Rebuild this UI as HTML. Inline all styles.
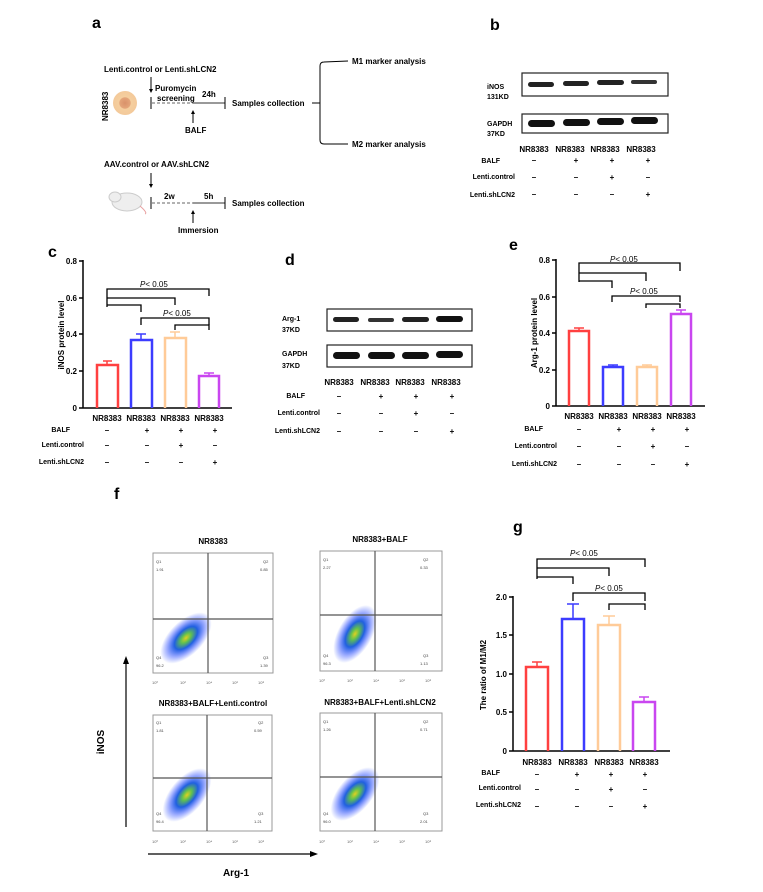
<!DOCTYPE html>
<html><head><meta charset="utf-8"><style>
html,body{margin:0;padding:0;background:#fff}
svg{display:block;font-family:"Liberation Sans",Arial,sans-serif}
.b{font-weight:bold}
</style></head><body>
<svg width="763" height="892" viewBox="0 0 763 892" xmlns="http://www.w3.org/2000/svg">
<defs>
<radialGradient id="cell"><stop offset="0" stop-color="#d9916a"/><stop offset="0.45" stop-color="#e4a57a"/><stop offset="0.5" stop-color="#f5cf9f"/><stop offset="1" stop-color="#f3c99a"/></radialGradient>
<radialGradient id="dots"><stop offset="0" stop-color="#e0d020"/><stop offset="0.2" stop-color="#60c050"/><stop offset="0.45" stop-color="#2060e0"/><stop offset="0.75" stop-color="#3050ff" stop-opacity="0.45"/><stop offset="1" stop-color="#3050ff" stop-opacity="0"/></radialGradient>
</defs>
<g fill="#000">
<!-- panel a -->
<text x="92" y="28" font-size="16" class="b">a</text>
<text x="104" y="72" font-size="8" class="b">Lenti.control or Lenti.shLCN2</text>
<line x1="151" y1="77" x2="151" y2="91" stroke="#000"/><path d="M149,89 L151,93 L153,89Z"/>
<text x="155" y="91" font-size="8" class="b">Puromycin</text>
<text x="157" y="101" font-size="8" class="b">screening</text>
<text x="202" y="97" font-size="8" class="b">24h</text>
<text x="232" y="106" font-size="8" class="b">Samples collection</text>
<line x1="151" y1="97" x2="151" y2="109" stroke="#000"/>
<line x1="152" y1="103" x2="193" y2="103" stroke="#666" stroke-dasharray="3,2"/>
<line x1="193" y1="103" x2="225" y2="103" stroke="#333"/>
<line x1="225" y1="97" x2="225" y2="109" stroke="#000"/>
<line x1="193" y1="112" x2="193" y2="123" stroke="#000"/><path d="M191,114 L193,110 L195,114Z"/>
<text x="185" y="133" font-size="8" class="b">BALF</text>
<circle cx="125" cy="103" r="12" fill="url(#cell)"/>
<text transform="translate(108,121) rotate(-90)" font-size="8" class="b">NR8383</text>
<line x1="312" y1="103" x2="320" y2="103" stroke="#000"/>
<path d="M348,61 L324,62 Q320,62 320,66 L320,140 Q320,144 324,144 L348,144" fill="none" stroke="#000"/>
<text x="352" y="64" font-size="8" class="b">M1 marker analysis</text>
<text x="352" y="147" font-size="8" class="b">M2 marker analysis</text>
<text x="104" y="167" font-size="8" class="b">AAV.control or AAV.shLCN2</text>
<line x1="151" y1="173" x2="151" y2="186" stroke="#000"/><path d="M149,184 L151,188 L153,184Z"/>
<line x1="151" y1="197" x2="151" y2="209" stroke="#000"/>
<line x1="152" y1="203" x2="193" y2="203" stroke="#666" stroke-dasharray="3,2"/>
<line x1="193" y1="203" x2="225" y2="203" stroke="#333"/>
<line x1="225" y1="197" x2="225" y2="209" stroke="#000"/>
<text x="164" y="199" font-size="8" class="b">2w</text>
<text x="204" y="199" font-size="8" class="b">5h</text>
<text x="232" y="206" font-size="8" class="b">Samples collection</text>
<line x1="193" y1="212" x2="193" y2="223" stroke="#000"/><path d="M191,214 L193,210 L195,214Z"/>
<text x="178" y="233" font-size="8" class="b">Immersion</text>
<ellipse cx="127" cy="202" rx="15" ry="9" fill="#eee" stroke="#ccc"/>
<ellipse cx="115" cy="197" rx="6" ry="5" fill="#eee" stroke="#ccc"/>
<path d="M140,206 Q148,213 145,214" fill="none" stroke="#e8a0a0"/>
<!-- panel b -->
<text x="490" y="30" font-size="16" class="b">b</text>
<rect x="522" y="73" width="146" height="23" fill="#fff" stroke="#222" stroke-width="1.2"/>
<rect x="528" y="82" width="26" height="5" rx="2.5" fill="#222"/><rect x="563" y="81" width="26" height="5" rx="2.5" fill="#222"/><rect x="597" y="80" width="27" height="5" rx="2.5" fill="#222"/><rect x="631" y="80" width="26" height="4" rx="2" fill="#333"/>
<rect x="522" y="114" width="146" height="19" fill="#fff" stroke="#222" stroke-width="1.2"/>
<rect x="528" y="120" width="27" height="7" rx="3.5" fill="#111"/><rect x="563" y="119" width="27" height="7" rx="3.5" fill="#111"/><rect x="597" y="118" width="27" height="7" rx="3.5" fill="#111"/><rect x="631" y="117" width="27" height="7" rx="3.5" fill="#111"/>
<text x="487" y="89" font-size="7" class="b">iNOS</text><text x="487" y="99" font-size="7" class="b">131KD</text>
<text x="487" y="126" font-size="7" class="b">GAPDH</text><text x="487" y="136" font-size="7" class="b">37KD</text>
<g font-size="8" class="b" text-anchor="middle">
<text x="534" y="152">NR8383</text><text x="570" y="152">NR8383</text><text x="605" y="152">NR8383</text><text x="641" y="152">NR8383</text>
<text x="534" y="163">–</text><text x="576" y="163">+</text><text x="612" y="163">+</text><text x="648" y="163">+</text>
<text x="534" y="180">–</text><text x="576" y="180">–</text><text x="612" y="180">+</text><text x="648" y="180">–</text>
<text x="534" y="197">–</text><text x="576" y="197">–</text><text x="612" y="197">–</text><text x="648" y="197">+</text>
</g>
<g font-size="7" class="b" text-anchor="end"><text x="500" y="163">BALF</text><text x="515" y="179">Lenti.control</text><text x="515" y="197">Lenti.shLCN2</text></g>
<!-- panel c -->
<text x="48" y="257" font-size="16" class="b">c</text>
<g stroke="#000" stroke-width="1.5" fill="none">
<line x1="83" y1="260" x2="83" y2="408"/><line x1="83" y1="408" x2="232" y2="408"/>
<line x1="79" y1="261" x2="83" y2="261"/><line x1="79" y1="298" x2="83" y2="298"/><line x1="79" y1="334" x2="83" y2="334"/><line x1="79" y1="371" x2="83" y2="371"/><line x1="79" y1="408" x2="83" y2="408"/>
</g>
<g font-size="8" class="b" text-anchor="end"><text x="77" y="264">0.8</text><text x="77" y="301">0.6</text><text x="77" y="337">0.4</text><text x="77" y="374">0.2</text><text x="77" y="411">0</text></g>
<text transform="translate(64,335) rotate(-90)" font-size="8" text-anchor="middle" class="b">iNOS protein level</text>
<g fill="none" stroke-width="2.5">
<path d="M97,408 V365 H118 V408" stroke="#ff4040"/><path d="M107,365 V361 M103,361 H112" stroke="#ff4040" stroke-width="1.5"/>
<path d="M131,408 V340 H152 V408" stroke="#3c3cff"/><path d="M141,340 V334 M136,334 H146" stroke="#3c3cff" stroke-width="1.5"/>
<path d="M165,408 V338 H186 V408" stroke="#ffcb98"/><path d="M175,338 V332 M170,332 H180" stroke="#ffcb98" stroke-width="1.5"/>
<path d="M199,408 V376 H219 V408" stroke="#c946f0"/><path d="M209,376 V373 M204,373 H214" stroke="#c946f0" stroke-width="1.5"/>
</g>
<g fill="none" stroke="#000" stroke-width="1.3">
<path d="M107,307 V289 H209 V296"/><path d="M107,298 H175 V305"/><path d="M107,305 H141 V312"/>
<path d="M141,325 V318 H209 V325"/><path d="M175,330 V325 H209 V330"/>
</g>
<text x="140" y="287" font-size="8"><tspan font-style="italic">P</tspan>&lt; 0.05</text>
<text x="163" y="316" font-size="8"><tspan font-style="italic">P</tspan>&lt; 0.05</text>
<g font-size="8" class="b" text-anchor="middle">
<text x="107" y="421">NR8383</text><text x="141" y="421">NR8383</text><text x="175" y="421">NR8383</text><text x="209" y="421">NR8383</text>
<text x="107" y="433">–</text><text x="147" y="433">+</text><text x="181" y="433">+</text><text x="215" y="433">+</text>
<text x="107" y="448">–</text><text x="147" y="448">–</text><text x="181" y="448">+</text><text x="215" y="448">–</text>
<text x="107" y="465">–</text><text x="147" y="465">–</text><text x="181" y="465">–</text><text x="215" y="465">+</text>
</g>
<g font-size="7" class="b" text-anchor="end"><text x="70" y="432">BALF</text><text x="84" y="447">Lenti.control</text><text x="84" y="464">Lenti.shLCN2</text></g>
<!-- panel d -->
<text x="285" y="265" font-size="16" class="b">d</text>
<rect x="327" y="309" width="145" height="22" fill="#fff" stroke="#222" stroke-width="1.2"/>
<rect x="333" y="317" width="26" height="5" rx="2.5" fill="#222"/><rect x="368" y="318" width="26" height="4" rx="2" fill="#333"/><rect x="402" y="317" width="27" height="5" rx="2.5" fill="#222"/><rect x="436" y="316" width="27" height="6" rx="3" fill="#111"/>
<rect x="327" y="345" width="145" height="22" fill="#fff" stroke="#222" stroke-width="1.2"/>
<rect x="333" y="352" width="27" height="7" rx="3.5" fill="#111"/><rect x="368" y="352" width="27" height="7" rx="3.5" fill="#111"/><rect x="402" y="352" width="27" height="7" rx="3.5" fill="#111"/><rect x="436" y="351" width="27" height="7" rx="3.5" fill="#111"/>
<text x="282" y="321" font-size="7" class="b">Arg-1</text><text x="282" y="332" font-size="7" class="b">37KD</text>
<text x="282" y="356" font-size="7" class="b">GAPDH</text><text x="282" y="368" font-size="7" class="b">37KD</text>
<g font-size="8" class="b" text-anchor="middle">
<text x="339" y="385">NR8383</text><text x="375" y="385">NR8383</text><text x="410" y="385">NR8383</text><text x="446" y="385">NR8383</text>
<text x="339" y="399">–</text><text x="381" y="399">+</text><text x="416" y="399">+</text><text x="452" y="399">+</text>
<text x="339" y="416">–</text><text x="381" y="416">–</text><text x="416" y="416">+</text><text x="452" y="416">–</text>
<text x="339" y="434">–</text><text x="381" y="434">–</text><text x="416" y="434">–</text><text x="452" y="434">+</text>
</g>
<g font-size="7" class="b" text-anchor="end"><text x="305" y="398">BALF</text><text x="320" y="415">Lenti.control</text><text x="320" y="433">Lenti.shLCN2</text></g>
<!-- panel e -->
<text x="509" y="250" font-size="16" class="b">e</text>
<g stroke="#000" stroke-width="1.5" fill="none">
<line x1="556" y1="259" x2="556" y2="406"/><line x1="556" y1="406" x2="705" y2="406"/>
<line x1="552" y1="260" x2="556" y2="260"/><line x1="552" y1="297" x2="556" y2="297"/><line x1="552" y1="333" x2="556" y2="333"/><line x1="552" y1="370" x2="556" y2="370"/><line x1="552" y1="406" x2="556" y2="406"/>
</g>
<g font-size="8" class="b" text-anchor="end"><text x="550" y="263">0.8</text><text x="550" y="300">0.6</text><text x="550" y="336">0.4</text><text x="550" y="373">0.2</text><text x="550" y="409">0</text></g>
<text transform="translate(537,333) rotate(-90)" font-size="8" text-anchor="middle" class="b">Arg-1 protein level</text>
<g fill="none" stroke-width="2.5">
<path d="M569,406 V331 H589 V406" stroke="#ff4040"/><path d="M579,331 V328 M574,328 H584" stroke="#ff4040" stroke-width="1.5"/>
<path d="M603,406 V367 H623 V406" stroke="#3c3cff"/><path d="M613,367 V365 M608,365 H618" stroke="#3c3cff" stroke-width="1.5"/>
<path d="M637,406 V367 H657 V406" stroke="#ffcb98"/><path d="M647,367 V365 M642,365 H652" stroke="#ffcb98" stroke-width="1.5"/>
<path d="M671,406 V314 H691 V406" stroke="#c946f0"/><path d="M681,314 V310 M676,310 H686" stroke="#c946f0" stroke-width="1.5"/>
</g>
<g fill="none" stroke="#000" stroke-width="1.3">
<path d="M579,282 V263 H680 V271"/><path d="M579,273 H646 V281"/><path d="M579,281 H612 V288"/>
<path d="M612,302 V296 H680 V302"/><path d="M646,308 V304 H680 V308"/>
</g>
<text x="610" y="262" font-size="8"><tspan font-style="italic">P</tspan>&lt; 0.05</text>
<text x="630" y="294" font-size="8"><tspan font-style="italic">P</tspan>&lt; 0.05</text>
<g font-size="8" class="b" text-anchor="middle">
<text x="579" y="419">NR8383</text><text x="613" y="419">NR8383</text><text x="647" y="419">NR8383</text><text x="681" y="419">NR8383</text>
<text x="579" y="432">–</text><text x="619" y="432">+</text><text x="653" y="432">+</text><text x="687" y="432">+</text>
<text x="579" y="449">–</text><text x="619" y="449">–</text><text x="653" y="449">+</text><text x="687" y="449">–</text>
<text x="579" y="467">–</text><text x="619" y="467">–</text><text x="653" y="467">–</text><text x="687" y="467">+</text>
</g>
<g font-size="7" class="b" text-anchor="end"><text x="543" y="431">BALF</text><text x="557" y="448">Lenti.control</text><text x="557" y="466">Lenti.shLCN2</text></g>
<!-- panel f -->
<text x="114" y="499" font-size="16" class="b">f</text>
<g font-size="8" class="b" text-anchor="middle">
<text x="213" y="544">NR8383</text><text x="380" y="542">NR8383+BALF</text>
<text x="213" y="706">NR8383+BALF+Lenti.control</text><text x="380" y="705">NR8383+BALF+Lenti.shLCN2</text>
</g>
<g>
<rect x="153" y="553" width="120" height="120" fill="#fff" stroke="#999"/>
<ellipse cx="186" cy="638" rx="32" ry="17" transform="rotate(-45 186 638)" fill="url(#dots)"/>
<line x1="208" y1="553" x2="208" y2="673" stroke="#555" stroke-width="1.2"/><line x1="153" y1="619" x2="273" y2="619" stroke="#555" stroke-width="1.2"/>
<g font-size="4" fill="#444"><text x="156" y="563">Q1</text><text x="156" y="571">1.91</text><text x="263" y="563">Q2</text><text x="260" y="571">0.85</text><text x="156" y="659">Q4</text><text x="156" y="667">96.2</text><text x="263" y="659">Q3</text><text x="260" y="667">1.39</text></g>
</g>
<g>
<rect x="320" y="551" width="122" height="120" fill="#fff" stroke="#999"/>
<ellipse cx="355" cy="634" rx="32" ry="17" transform="rotate(-60 355 634)" fill="url(#dots)"/>
<line x1="375" y1="551" x2="375" y2="671" stroke="#555" stroke-width="1.2"/><line x1="320" y1="615" x2="442" y2="615" stroke="#555" stroke-width="1.2"/>
<g font-size="4" fill="#444"><text x="323" y="561">Q1</text><text x="323" y="569">2.27</text><text x="423" y="561">Q2</text><text x="420" y="569">0.33</text><text x="323" y="657">Q4</text><text x="323" y="665">96.3</text><text x="423" y="657">Q3</text><text x="420" y="665">1.13</text></g>
</g>
<g>
<rect x="153" y="715" width="119" height="116" fill="#fff" stroke="#999"/>
<ellipse cx="187" cy="795" rx="32" ry="17" transform="rotate(-50 187 795)" fill="url(#dots)"/>
<line x1="207" y1="715" x2="207" y2="831" stroke="#555" stroke-width="1.2"/><line x1="153" y1="778" x2="272" y2="778" stroke="#555" stroke-width="1.2"/>
<g font-size="4" fill="#444"><text x="156" y="724">Q1</text><text x="156" y="732">1.81</text><text x="258" y="724">Q2</text><text x="254" y="732">0.59</text><text x="156" y="815">Q4</text><text x="156" y="823">96.4</text><text x="258" y="815">Q3</text><text x="254" y="823">1.21</text></g>
</g>
<g>
<rect x="320" y="713" width="122" height="118" fill="#fff" stroke="#999"/>
<ellipse cx="355" cy="794" rx="32" ry="17" transform="rotate(-50 355 794)" fill="url(#dots)"/>
<line x1="375" y1="713" x2="375" y2="831" stroke="#555" stroke-width="1.2"/><line x1="320" y1="777" x2="442" y2="777" stroke="#555" stroke-width="1.2"/>
<g font-size="4" fill="#444"><text x="323" y="723">Q1</text><text x="323" y="731">1.26</text><text x="423" y="723">Q2</text><text x="420" y="731">0.71</text><text x="323" y="815">Q4</text><text x="323" y="823">96.0</text><text x="423" y="815">Q3</text><text x="420" y="823">2.01</text></g>
</g>
<g font-size="4" fill="#666">
<text x="152" y="684">10⁰</text><text x="180" y="684">10²</text><text x="206" y="684">10⁴</text><text x="232" y="684">10⁶</text><text x="258" y="684">10⁸</text>
<text x="319" y="682">10⁰</text><text x="347" y="682">10²</text><text x="373" y="682">10⁴</text><text x="399" y="682">10⁶</text><text x="425" y="682">10⁸</text>
<text x="152" y="843">10⁰</text><text x="180" y="843">10²</text><text x="206" y="843">10⁴</text><text x="232" y="843">10⁶</text><text x="258" y="843">10⁸</text>
<text x="319" y="843">10⁰</text><text x="347" y="843">10²</text><text x="373" y="843">10⁴</text><text x="399" y="843">10⁶</text><text x="425" y="843">10⁸</text>
</g>
<line x1="126" y1="662" x2="126" y2="827" stroke="#000" stroke-width="1.2"/><path d="M123,664 L126,656 L129,664Z"/>
<line x1="148" y1="854" x2="312" y2="854" stroke="#000" stroke-width="1.2"/><path d="M310,851 L318,854 L310,857Z"/>
<text transform="translate(104,742) rotate(-90)" font-size="10" text-anchor="middle" class="b">iNOS</text>
<text x="236" y="876" font-size="10" text-anchor="middle" class="b">Arg-1</text>
<!-- panel g -->
<text x="513" y="532" font-size="16" class="b">g</text>
<g stroke="#000" stroke-width="1.5" fill="none">
<line x1="513" y1="596" x2="513" y2="751"/><line x1="513" y1="751" x2="670" y2="751"/>
<line x1="509" y1="597" x2="513" y2="597"/><line x1="509" y1="635" x2="513" y2="635"/><line x1="509" y1="674" x2="513" y2="674"/><line x1="509" y1="712" x2="513" y2="712"/><line x1="509" y1="751" x2="513" y2="751"/>
</g>
<g font-size="8" class="b" text-anchor="end"><text x="507" y="600">2.0</text><text x="507" y="638">1.5</text><text x="507" y="677">1.0</text><text x="507" y="715">0.5</text><text x="507" y="754">0</text></g>
<text transform="translate(486,675) rotate(-90)" font-size="8" text-anchor="middle" class="b">The ratio of M1/M2</text>
<g fill="none" stroke-width="2.5">
<path d="M526,751 V667 H548 V751" stroke="#ff4040"/><path d="M537,667 V662 M532,662 H542" stroke="#ff4040" stroke-width="1.5"/>
<path d="M562,751 V619 H584 V751" stroke="#3c3cff"/><path d="M573,619 V604 M567,604 H579" stroke="#3c3cff" stroke-width="1.5"/>
<path d="M598,751 V625 H620 V751" stroke="#ffcb98"/><path d="M609,625 V616 M603,616 H615" stroke="#ffcb98" stroke-width="1.5"/>
<path d="M633,751 V702 H655 V751" stroke="#c946f0"/><path d="M644,702 V697 M639,697 H649" stroke="#c946f0" stroke-width="1.5"/>
</g>
<g fill="none" stroke="#000" stroke-width="1.3">
<path d="M537,579 V559 H645 V567"/><path d="M537,568 H609 V576"/><path d="M537,577 H573 V584"/>
<path d="M573,601 V593 H645 V601"/><path d="M609,610 V604 H645 V610"/>
</g>
<text x="570" y="556" font-size="8"><tspan font-style="italic">P</tspan>&lt; 0.05</text>
<text x="595" y="591" font-size="8"><tspan font-style="italic">P</tspan>&lt; 0.05</text>
<g font-size="8" class="b" text-anchor="middle">
<text x="537" y="765">NR8383</text><text x="573" y="765">NR8383</text><text x="609" y="765">NR8383</text><text x="644" y="765">NR8383</text>
<text x="537" y="777">–</text><text x="577" y="777">+</text><text x="611" y="777">+</text><text x="645" y="777">+</text>
<text x="537" y="792">–</text><text x="577" y="792">–</text><text x="611" y="792">+</text><text x="645" y="792">–</text>
<text x="537" y="809">–</text><text x="577" y="809">–</text><text x="611" y="809">–</text><text x="645" y="809">+</text>
</g>
<g font-size="7" class="b" text-anchor="end"><text x="500" y="775">BALF</text><text x="521" y="790">Lenti.control</text><text x="521" y="807">Lenti.shLCN2</text></g>
</g>
</svg>
</body></html>
